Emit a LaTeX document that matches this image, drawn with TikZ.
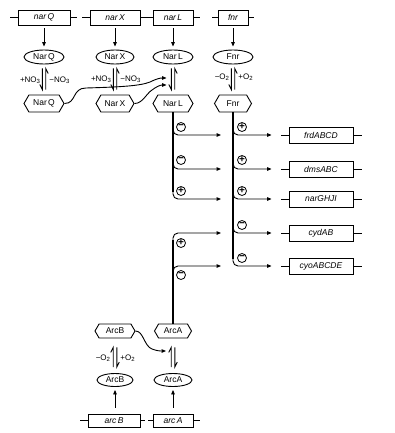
\documentclass[tikz,border=0pt]{standalone}
\usepackage{fontspec}
\setmainfont{Liberation Sans}
\usetikzlibrary{arrows.meta,shapes.geometric,shapes.symbols}
\begin{document}
\begin{tikzpicture}[x=1pt,y=-1pt,line width=0.9pt,
  gene/.style={draw,rectangle,minimum height=15pt,inner sep=0pt,font=\fontsize{8.5}{9}\selectfont\itshape},
  prot/.style={draw,ellipse,minimum height=14pt,inner sep=0pt,font=\fontsize{8.5}{9}\selectfont},
  act/.style={draw,signal,signal to=east and west,signal pointer angle=120,minimum height=17pt,inner sep=0pt,font=\fontsize{8.5}{9}\selectfont},
  arr/.style={-{Triangle[length=4.5pt,width=3.6pt]}},
  lbl/.style={font=\fontsize{8}{9}\selectfont,inner sep=0pt},
  sgn/.style={draw,circle,minimum size=9pt,inner sep=0pt,line width=0.8pt,font=\fontsize{10}{10}\selectfont\bfseries},
  main/.style={line width=1.4pt},
  eq/.style={line width=0.9pt},
]
\useasboundingbox (0,0) rectangle (394,433);
% ---------- top genes ----------
\node[gene,minimum width=52pt] (narQg) at (44,17.5) {nar\,Q};
\node[gene,minimum width=50pt] (narXg) at (115,17.5) {nar\,X};
\node[gene,minimum width=40pt] (narLg) at (173,17.5) {nar\,L};
\node[gene,minimum width=30pt] (fnrg) at (233,17.5) {fnr};
\draw (10,17.5) -- (narQg.west);
\draw (narQg.east) -- (77,17.5);
\draw (82,17.5) -- (narXg.west);
\draw (narXg.east) -- (narLg.west);
\draw (narLg.east) -- (200,17.5);
\draw (212,17.5) -- (fnrg.west);
\draw (fnrg.east) -- (254,17.5);
% ---------- proteins ----------
\node[prot,minimum width=40pt] (NarQe) at (44,57) {Nar\,Q};
\node[prot,minimum width=38pt] (NarXe) at (115,57) {Nar\,X};
\node[prot,minimum width=40pt] (NarLe) at (173,57) {Nar\,L};
\node[prot,minimum width=40pt] (Fnre) at (233,57) {Fnr};
\foreach \g/\p in {narQg/NarQe,narXg/NarXe,narLg/NarLe,fnrg/Fnre}
  \draw[arr,shorten <=3pt,shorten >=3pt] (\g) -- (\p);
% ---------- active forms ----------
\node[act,minimum width=40pt] (NarQh) at (44,103.5) {Nar\,Q};
\node[act,minimum width=38pt] (NarXh) at (115,103.5) {Nar\,X};
\node[act,minimum width=40pt] (NarLh) at (173,103.5) {Nar\,L};
\node[act,minimum width=37pt] (Fnrh) at (233,103.5) {Fnr};
% equilibria (down on left, up on right)
\foreach \e/\h in {NarQe/NarQh,NarXe/NarXh,NarLe/NarLh,Fnre/Fnrh}{
  \draw[eq] ([xshift=-1.7pt,yshift=-4pt]\e.south) -- ([xshift=-1.7pt,yshift=5pt]\h.north) -- ++(-2.5,-5);
  \draw[eq] ([xshift=1.7pt,yshift=5pt]\h.north) -- ([xshift=1.7pt,yshift=-4pt]\e.south) -- ++(2.5,5);
}
\node[lbl,anchor=east] at (41,80) {+NO\textsubscript{3}};
\node[lbl,anchor=west] at (49,80) {−NO\textsubscript{3}};
\node[lbl,anchor=east] at (112,79) {+NO\textsubscript{3}};
\node[lbl,anchor=west] at (120,79) {−NO\textsubscript{3}};
\node[lbl,anchor=east] at (230,77) {−O\textsubscript{2}};
\node[lbl,anchor=west] at (238,77) {+O\textsubscript{2}};
% sensor -> NarL curved arrows
\coordinate (tipQ) at (166.5,78);
\coordinate (tipX) at (166.5,85);
\draw[arr] (NarQh.east) .. controls +(12,0) and (72,88) .. (86,88)
   .. controls (120,87) and (140,86) .. (150,82) .. controls (156,79) and (160,78) .. (tipQ);
\draw[arr] (NarXh.east) .. controls +(8,0) and (146,94) .. (152,90) .. controls (156,87) and (160,85) .. (tipX);
% ---------- target genes ----------
\foreach \n/\t/\y in {frd/frdABCD/135,dms/dmsABC/169,nar/narGHJI/199,cyd/cydAB/233,cyo/cyoABCDE/266}{
  \node[gene,minimum width=64pt,minimum height=16pt] (\n) at (321,\y) {\t};
  \draw (281,\y) -- (\n.west);
  \draw (\n.east) -- (362,\y);
  \coordinate (F\n) at (233,\y);
}
% Fnr regulatory line
\draw[main] (Fnrh.south) -- (233,259);
\foreach \n in {frd,dms,nar,cyd,cyo}
  \draw[arr,rounded corners=5pt] ([yshift=10pt]F\n) |- ([xshift=-17pt]\n.west);
\node[sgn] at (242,127) {+};
\node[sgn] at (242,160) {+};
\node[sgn] at (242,191) {+};
\node[sgn] at (242,225) {−};
\node[sgn] at (242,258) {−};
% NarL regulatory line
\draw[main] (NarLh.south) -- (173,192);
\foreach \n in {frd,dms,nar}
  \draw[arr,rounded corners=5pt] ([xshift=-60pt,yshift=10pt]F\n) |- ([xshift=-12pt]F\n);
\node[sgn] at (181,127) {−};
\node[sgn] at (181,160) {−};
\node[sgn] at (181,191) {+};
% ---------- Arc system ----------
\node[act,minimum width=40pt,minimum height=14pt] (ArcBh) at (115,331) {ArcB};
\node[act,minimum width=37pt,minimum height=14pt] (ArcAh) at (173,331) {ArcA};
\node[prot,minimum width=36pt,minimum height=13pt] (ArcBe) at (115,380) {ArcB};
\node[prot,minimum width=38pt,minimum height=13pt] (ArcAe) at (173,380) {ArcA};
\node[gene,minimum width=52pt,minimum height=13pt] (arcBg) at (114,420.5) {arc\,B};
\node[gene,minimum width=40pt,minimum height=13pt] (arcAg) at (173,420.5) {arc\,A};
\draw (80,420.5) -- (arcBg.west);
\draw (arcBg.east) -- (145,420.5);
\draw (148,420.5) -- (arcAg.west);
\draw (arcAg.east) -- (200,420.5);
\draw[arr,shorten <=6pt,shorten >=3pt] (arcBg.north -| ArcBe) -- (ArcBe);
\draw[arr,shorten <=6pt,shorten >=3pt] (arcAg) -- (ArcAe);
% ArcA regulatory line
\draw[main] (ArcAh.north) -- (173,240);
\foreach \n in {cyd,cyo}
  \draw[arr,rounded corners=5pt] ([xshift=-60pt,yshift=-12pt]F\n) |- ([xshift=-12pt]F\n);
\node[sgn] at (181,243) {+};
\node[sgn] at (181,275) {−};
% Arc equilibria (up on left, down on right)
\foreach \e/\h in {ArcBe/ArcBh,ArcAe/ArcAh}{
  \draw[eq] ([xshift=-1.8pt,yshift=6pt]\e.north) -- ([xshift=-1.8pt,yshift=-9pt]\h.south) -- ++(-2.5,5);
  \draw[eq] ([xshift=1.8pt,yshift=-9pt]\h.south) -- ([xshift=1.8pt,yshift=6pt]\e.north) -- ++(2.5,-5);
}
\node[lbl,anchor=east] at (111,358) {−O\textsubscript{2}};
\node[lbl,anchor=west] at (120,358) {+O\textsubscript{2}};
\coordinate (tipB) at (166,351);
\draw[arr] (ArcBh.east) .. controls +(8,0) and (144,346) .. (152,349) .. controls (157,351) and (161,351) .. (tipB);
\end{tikzpicture}
\end{document}
